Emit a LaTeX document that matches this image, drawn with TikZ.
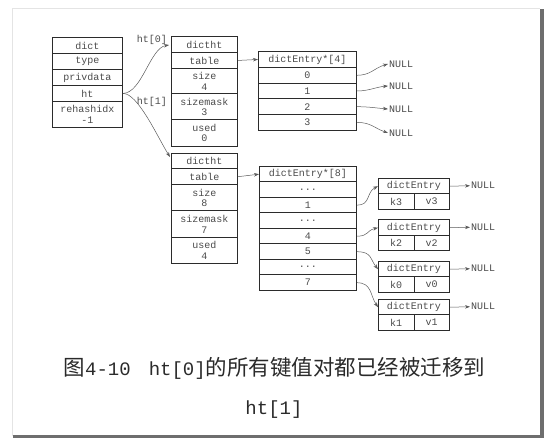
\documentclass[tikz,border=0pt]{standalone}
\usepackage{fontspec}
\setmonofont{Liberation Mono}
\newfontfamily\cjk{Noto Sans CJK SC}
\usetikzlibrary{arrows.meta}
\definecolor{boxc}{HTML}{2B2B2B}
\definecolor{txtc}{HTML}{4A4A4A}
\definecolor{linec}{HTML}{5A5A5A}
\definecolor{capc}{HTML}{2A2A2A}
\definecolor{framel}{HTML}{E4E4E4}
\definecolor{framed}{HTML}{6E6E6E}
\begin{document}
\begin{tikzpicture}[x=1pt,y=-1pt,
  cell/.style={draw=boxc, line width=0.9pt, inner sep=0pt, anchor=north west, align=center,
    font=\ttfamily\fontsize{10}{10.5}\selectfont, text=txtc},
  conn/.style={draw=linec, line width=0.5pt, -{Stealth[length=5pt,width=3.5pt]}},
  lbl/.style={font=\ttfamily\fontsize{10}{10.5}\selectfont, text=txtc, inner sep=1pt},
  nul/.style={font=\ttfamily\fontsize{10}{10.5}\selectfont, text=txtc, inner sep=1pt, anchor=west}]
\useasboundingbox (0,0) rectangle (552,446);
% frame
\draw[framel, line width=0.8pt] (12,436) -- (12,8) -- (540,8);
\fill[framed] (540,9) rectangle (543.5,438.5);
\fill[framed] (13,435) rectangle (543.5,438.5);

% dict
\node[cell, minimum width=70pt, minimum height=16pt] (dname) at (52,37) {dict};
\node[cell, minimum width=70pt, minimum height=16pt] (dtype) at (52,53) {type};
\node[cell, minimum width=70pt, minimum height=16pt] (dpriv) at (52,69) {privdata};
\node[cell, minimum width=70pt, minimum height=16pt] (dht) at (52,85) {ht};
\node[cell, minimum width=70pt, minimum height=26pt] (drehash) at (52,101) {rehashidx\\-1};

% dictht 0
\node[cell, minimum width=66pt, minimum height=16pt] (h0n) at (171,36) {dictht};
\node[cell, minimum width=66pt, minimum height=16pt] (h0t) at (171,52) {table};
\node[cell, minimum width=66pt, minimum height=25.5pt] (h0s) at (171,68) {size\\4};
\node[cell, minimum width=66pt, minimum height=25.5pt] (h0m) at (171,93.5) {sizemask\\3};
\node[cell, minimum width=66pt, minimum height=27pt] (h0u) at (171,119) {used\\0};

% dictht 1
\node[cell, minimum width=66pt, minimum height=15.5pt] (h1n) at (171,153) {dictht};
\node[cell, minimum width=66pt, minimum height=15.5pt] (h1t) at (171,168.5) {table};
\node[cell, minimum width=66pt, minimum height=26.5pt] (h1s) at (171,184) {size\\8};
\node[cell, minimum width=66pt, minimum height=26.5pt] (h1m) at (171,210.5) {sizemask\\7};
\node[cell, minimum width=66pt, minimum height=26pt] (h1u) at (171,237) {used\\4};

% dictEntry*[4]
\node[cell, minimum width=98pt, minimum height=16pt] (e4h) at (258,51) {dictEntry*[4]};
\node[cell, minimum width=98pt, minimum height=15.7pt] (e40) at (258,67) {0};
\node[cell, minimum width=98pt, minimum height=15.7pt] (e41) at (258,82.7) {1};
\node[cell, minimum width=98pt, minimum height=15.7pt] (e42) at (258,98.4) {2};
\node[cell, minimum width=98pt, minimum height=15.7pt] (e43) at (258,114.1) {3};

% dictEntry*[8]
\node[cell, minimum width=97pt, minimum height=15.5pt] (e8h) at (259,166) {dictEntry*[8]};
\node[cell, minimum width=97pt, minimum height=15.5pt] (e8a) at (259,181.5) {...};
\node[cell, minimum width=97pt, minimum height=15.5pt] (e8b) at (259,197) {1};
\node[cell, minimum width=97pt, minimum height=15.5pt] (e8c) at (259,212.5) {...};
\node[cell, minimum width=97pt, minimum height=15.5pt] (e8d) at (259,228) {4};
\node[cell, minimum width=97pt, minimum height=15.5pt] (e8e) at (259,243.5) {5};
\node[cell, minimum width=97pt, minimum height=15.5pt] (e8f) at (259,259) {...};
\node[cell, minimum width=97pt, minimum height=15.5pt] (e8g) at (259,274.5) {7};

% dictEntry nodes
\node[cell, minimum width=71pt, minimum height=15.5pt] (a1) at (378,178) {dictEntry};
\node[cell, minimum width=35.5pt, minimum height=15.5pt] (a1k) at (378,193.5) {k3};
\node[cell, minimum width=35.5pt, minimum height=15.5pt] (a1v) at (413.5,193.5) {v3};
\node[cell, minimum width=71pt, minimum height=15.5pt] (a2) at (378,219.5) {dictEntry};
\node[cell, minimum width=35.5pt, minimum height=15.5pt] (a2k) at (378,235) {k2};
\node[cell, minimum width=35.5pt, minimum height=15.5pt] (a2v) at (413.5,235) {v2};
\node[cell, minimum width=71pt, minimum height=15.5pt] (a3) at (378,261) {dictEntry};
\node[cell, minimum width=35.5pt, minimum height=15.5pt] (a3k) at (378,276.5) {k0};
\node[cell, minimum width=35.5pt, minimum height=15.5pt] (a3v) at (413.5,276.5) {v0};
\node[cell, minimum width=71pt, minimum height=15.5pt] (a4) at (378,299) {dictEntry};
\node[cell, minimum width=35.5pt, minimum height=15.5pt] (a4k) at (378,314.5) {k1};
\node[cell, minimum width=35.5pt, minimum height=15.5pt] (a4v) at (413.5,314.5) {v1};

% NULL nodes
\node[nul] (n0) at (388,64) {NULL};
\node[nul] (n1) at (388,86) {NULL};
\node[nul] (n2) at (388,109) {NULL};
\node[nul] (n3) at (388,133) {NULL};
\node[nul] (m1) at (470,185.75) {NULL};
\node[nul] (m2) at (470,227.25) {NULL};
\node[nul] (m3) at (470,268.75) {NULL};
\node[nul] (m4) at (470,306.75) {NULL};

% labels
\node[lbl] (l0) at (152,40) {ht[0]};
\node[lbl] (l1) at (152,102) {ht[1]};
\coordinate (t0) at (169,45);
\coordinate (t1) at (170,157);

% connectors
\draw[conn] (dht.east) .. controls (142,93) and (150,48) .. (t0);
\draw[conn] (dht.east) .. controls (138,93) and (158,138) .. (t1);
\draw[conn] (h0t.east) -- (e4h.west);
\draw[conn] (h1t.east) -- (e8h.west);

\draw[conn] (e40.east) .. controls +(14,0) and +(-14,4) .. (n0.west);
\draw[conn] (e41.east) .. controls +(12,0) and +(-12,1) .. (n1.west);
\draw[conn] (e42.east) .. controls +(12,0) and +(-12,-1) .. (n2.west);
\draw[conn] (e43.east) .. controls +(14,0) and +(-14,-5) .. (n3.west);

\draw[conn] (e8b.east) .. controls +(14,0) and +(-12,6) .. (a1.west);
\draw[conn] (e8d.east) .. controls +(12,0) and +(-12,3) .. (a2.west);
\draw[conn] (e8e.east) .. controls +(15,0) and +(-8,-10) .. (a3.west);
\draw[conn] (e8g.east) .. controls +(15,0) and +(-8,-12) .. (a4.west);

\draw[conn] (a1.east) -- (m1.west);
\draw[conn] (a2.east) -- (m2.west);
\draw[conn] (a3.east) -- (m3.west);
\draw[conn] (a4.east) -- (m4.west);

% caption
\node[font=\cjk\fontsize{21.5}{26}\selectfont, text=capc, inner sep=0pt] (cap1) at (274.5,368)
  {图{\ttfamily\fontsize{19}{22}\selectfont 4-10\hspace{18pt}ht[0]}的所有键值对都已经被迁移到};
\node[font=\ttfamily\fontsize{19}{22}\selectfont, text=capc, inner sep=0pt] (cap2) at (274,410) {ht[1]};
\end{tikzpicture}
\end{document}
